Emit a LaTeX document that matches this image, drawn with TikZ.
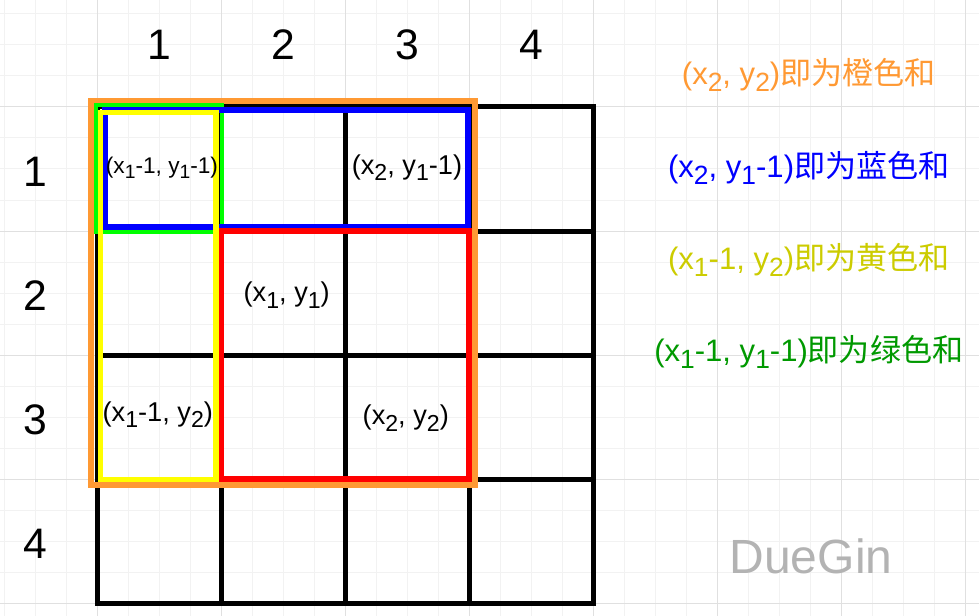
\documentclass[tikz,border=0pt]{standalone}
\usepackage{fontspec}
\setmainfont{Liberation Sans}
\newfontfamily\cjk{Noto Sans CJK SC}
\definecolor{orng}{HTML}{FF9933}
\definecolor{grn}{HTML}{00FF00}
\definecolor{blu}{HTML}{0000FF}
\definecolor{ylw}{HTML}{FFFF00}
\definecolor{rd}{HTML}{FF0000}
\definecolor{ylwtext}{HTML}{CCCC00}
\definecolor{grntext}{HTML}{009900}
\definecolor{mark}{HTML}{B3B3B3}
\newcommand\sub[1]{\raisebox{-0.45ex}{\scalebox{0.85}{#1}}}

\begin{document}
\begin{tikzpicture}[x=93pt, y=-93pt,
  minorline/.style={draw=black!5, line width=0.75pt},
  majorline/.style={draw=black!12, line width=0.75pt},
  cellline/.style={line width=3.75pt, line cap=rect},
  sumbox/.style={line width=4.5pt},
  hdr/.style={font=\fontsize{32}{38}\selectfont},
  lbl/.style={font=\fontsize{20.4}{24}\selectfont},
  note/.style={font=\fontsize{23.3}{28}\selectfont}]

  % page and background grid
  \fill[white] (-0.7823,-0.8629) rectangle (7.1129,4.1048);
  \useasboundingbox (-0.7823,-0.8629) rectangle (7.1129,4.1048);
  \foreach \i in {-3,...,28}
    \draw[minorline] (\i/4,-0.8629) -- (\i/4,4.1048);
  \foreach \j in {-3,...,16}
    \draw[minorline] (-0.7823,\j/4) -- (7.1129,\j/4);
  \foreach \i in {0,...,7}
    \draw[majorline] (\i,-0.8629) -- (\i,4.1048);
  \foreach \j in {0,...,4}
    \draw[majorline] (-0.7823,\j) -- (7.1129,\j);

  % 4x4 table
  \foreach \k in {0,...,4} {
    \draw[cellline] (\k,0) -- (\k,4);
    \draw[cellline] (0,\k) -- (4,\k);
  }

  % headers
  \foreach \c in {1,...,4}
    \node[hdr] (col\c) at (\c-0.5,-0.5) {\c};
  \foreach \r in {1,...,4}
    \node[hdr] (row\r) at (-0.5,\r-0.48) {\r};

  % the sums
  \draw[sumbox, orng] (-0.052,-0.052) rectangle (3.048,3.048); % (x2,y2)
  \draw[line width=3pt, grn] (-0.008,-0.016) rectangle (1.008,1.008); % (x1-1,y1-1)
  \draw[sumbox, blu] (0.065,0.024) rectangle (2.99,0.97); % (x2,y1-1)
  \draw[sumbox, rd] (1,1) rectangle (3,3); % (x1,y1)..(x2,y2)
  \draw[line width=4.2pt, ylw] (0.028,0.044) rectangle (0.96,3.004); % (x1-1,y2)

  % cell texts
  \node[font=\fontsize{17}{20}\selectfont] (tl) at (0.524,0.49)
    {(x\sub{1}-1, y\sub{1}-1)};
  \node[lbl] (tr) at (2.5,0.49) {(x\sub{2}, y\sub{1}-1)};
  \node[lbl] (mid) at (1.53,1.516) {(x\sub{1}, y\sub{1})};
  \node[lbl] (bl) at (0.49,2.48) {(x\sub{1}-1, y\sub{2})};
  \node[lbl] (br) at (2.49,2.51) {(x\sub{2}, y\sub{2})};

  % legend
  \node[note, text=orng] (orngsum) at (5.74,-0.258)
    {(x\sub{2}, y\sub{2}){\cjk 即为橙色和}};
  \node[note, text=blu] (blusum) at (5.74,0.492)
    {(x\sub{2}, y\sub{1}-1){\cjk 即为蓝色和}};
  \node[note, text=ylwtext] (ylwsum) at (5.74,1.234)
    {(x\sub{1}-1, y\sub{2}){\cjk 即为黄色和}};
  \node[note, text=grntext] (grnsum) at (5.74,1.976)
    {(x\sub{1}-1, y\sub{1}-1){\cjk 即为绿色和}};

  \node[font=\fontsize{36}{43}\selectfont, text=mark] (sign) at (5.758,3.62) {DueGin};
\end{tikzpicture}
\end{document}
